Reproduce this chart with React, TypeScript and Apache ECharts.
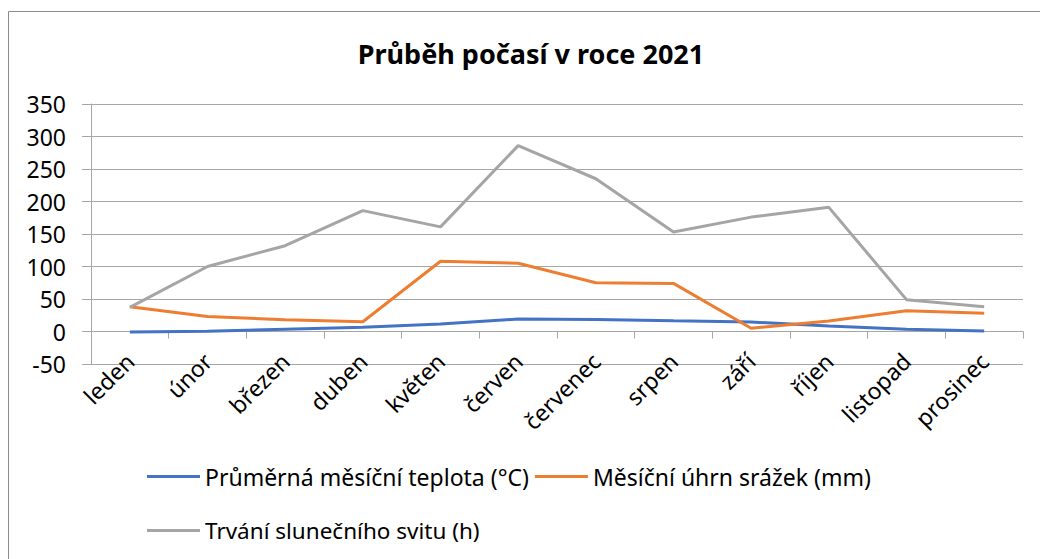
import React, { useEffect, useRef } from "react";
import * as echarts from "echarts";

const months = ["leden", "únor", "březen", "duben", "květen", "červen", "červenec", "srpen", "září", "říjen", "listopad", "prosinec"];
const temperature = [-0.9, 0.3, 3.5, 6.5, 11.4, 19.2, 18.6, 16.4, 14.6, 8.4, 3.6, 0.8];
const precipitation = [38, 23, 18, 15, 108, 105, 75, 74, 5, 16, 32, 28];
const sunshine = [37, 100, 132, 186, 161, 286, 235, 153, 176, 191, 49, 38];
const seriesNames = ["Průměrná měsíční teplota (°C)", "Měsíční úhrn srážek (mm)", "Trvání slunečního svitu (h)"];
const titleText = "Průběh počasí v roce 2021";

const FONT = "Noto Sans";
const GRID = "#a6a6a6";

export default function App() {
  const ref = useRef<HTMLDivElement>(null);
  useEffect(() => {
    const chart = echarts.init(ref.current!, null, { renderer: "svg" });
    chart.setOption({
      animation: false,
      textStyle: { fontFamily: FONT },
      title: {
        text: titleText,
        left: 526,
        top: 35,
        textAlign: "center",
        textStyle: { fontFamily: FONT, fontSize: 27, fontWeight: "bold", color: "#000" },
      },
      graphic: [
        {
          type: "rect",
          shape: { x: 8.5, y: 11.5, width: 1100, height: 600 },
          style: { fill: "none", stroke: "#8c8c8c", lineWidth: 1 },
          silent: true,
        },
      ],
      legend: [
        {
          data: [seriesNames[0], seriesNames[1]],
          left: 147,
          top: 465,
          padding: 0,
          icon: "rect",
          itemWidth: 53,
          itemHeight: 3,
          itemGap: 6,
          textStyle: { fontFamily: FONT, fontSize: 23, color: "#000" },
        },
        {
          data: [seriesNames[2]],
          left: 147,
          top: 519,
          padding: 0,
          icon: "rect",
          itemWidth: 53,
          itemHeight: 3,
          itemGap: 6,
          textStyle: { fontFamily: FONT, fontSize: 22.5, color: "#000" },
        },
      ],
      grid: { left: 91, right: 17, top: 104, bottom: 195, containLabel: false },
      xAxis: [
        {
          type: "category",
          data: months,
          boundaryGap: true,
          axisLine: { show: true, onZero: true, lineStyle: { color: GRID, width: 1 } },
          axisTick: { show: true, length: 7, lineStyle: { color: GRID } },
          axisLabel: { show: false },
        },
        {
          type: "category",
          data: months,
          boundaryGap: true,
          position: "bottom",
          axisLine: { show: false, onZero: false },
          axisTick: { show: false },
          axisLabel: {
            show: true,
            rotate: 45,
            margin: -7,
            interval: 0,
            fontFamily: FONT,
            fontSize: 23,
            color: "#000",
          },
        },
      ],
      yAxis: {
        type: "value",
        min: -50,
        max: 350,
        interval: 50,
        axisLine: { show: true, lineStyle: { color: GRID, width: 1 } },
        axisTick: { show: true, length: 9, lineStyle: { color: GRID } },
        axisLabel: { margin: 25, fontFamily: FONT, fontSize: 23, color: "#000" },
        splitLine: { show: true, lineStyle: { color: GRID, width: 1 } },
      },
      series: [
        {
          name: seriesNames[0],
          type: "line",
          data: temperature,
          showSymbol: false,
          color: "#4472C4",
          lineStyle: { width: 3, color: "#4472C4" },
        },
        {
          name: seriesNames[1],
          type: "line",
          data: precipitation,
          showSymbol: false,
          color: "#ED7D31",
          lineStyle: { width: 3, color: "#ED7D31" },
        },
        {
          name: seriesNames[2],
          type: "line",
          data: sunshine,
          showSymbol: false,
          color: "#A5A5A5",
          lineStyle: { width: 3, color: "#A5A5A5" },
        },
      ],
    });
    return () => chart.dispose();
  }, []);
  return (
    <div
      ref={ref}
      style={{ position: "fixed", left: 0, top: 0, width: 1040, height: 559, background: "#fff" }}
    />
  );
}
